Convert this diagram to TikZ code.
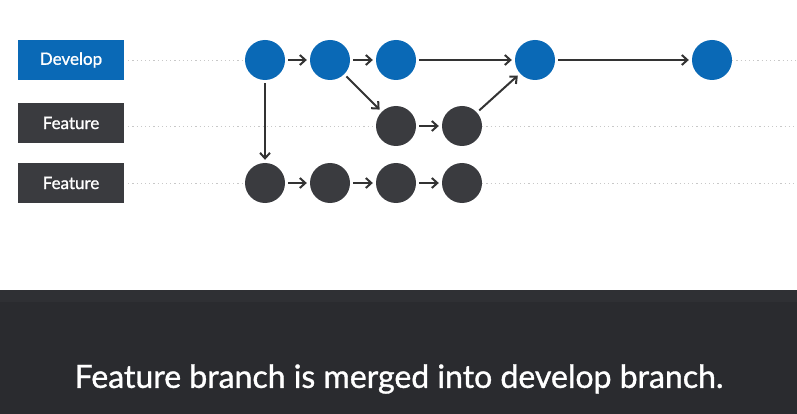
\documentclass[tikz,border=0pt]{standalone}
\usepackage{fontspec}
\setmainfont{Lato}
\newfontfamily\medfont[FakeBold=1.1]{Lato}
\usetikzlibrary{arrows.meta}
\definecolor{devblue}{HTML}{0A69B6}
\definecolor{featgray}{HTML}{3A3B3F}
\definecolor{arrowgray}{HTML}{333333}
\definecolor{bandgray}{HTML}{2A2B2F}
\definecolor{bandtop}{HTML}{2F3034}
\definecolor{dotgray}{HTML}{C8C8C8}
\tikzset{
  every picture/.style={x=1pt,y=-1pt},
  lbl/.style={minimum width=106pt,minimum height=40pt,inner sep=0pt,text=white,font=\medfont\fontsize{17}{19}\selectfont},
  devlbl/.style={lbl,fill=devblue},
  featlbl/.style={lbl,fill=featgray},
  commit/.style={circle,minimum size=40pt,inner sep=0pt},
  dc/.style={commit,fill=devblue},
  fc/.style={commit,fill=featgray},
  arr/.style={draw=arrowgray,line width=2pt,-{Straight Barb[length=5.5pt,width=10pt]},shorten <=3pt,shorten >=3pt},
  guide/.style={draw=dotgray,line width=0.9pt,dash pattern=on 1.2pt off 3pt}
}
\begin{document}
\begin{tikzpicture}
\useasboundingbox (0,0) rectangle (797,414);
\fill[white] (0,0) rectangle (797,414);
% bottom band
\fill[bandgray] (0,290) rectangle (797,414);
\fill[bandtop] (0,290) rectangle (797,302);
\node[text=white,font=\medfont\fontsize{32}{36}\selectfont] (cap) at (399,379) {Feature branch is merged into develop branch.};
% labels
\node[devlbl] (ld) at (71,60) {Develop};
\node[featlbl] (lf1) at (71,123) {Feature};
\node[featlbl] (lf2) at (71,183) {Feature};
% commits
\node[dc] (d1) at (265,60) {};
\node[dc] (d2) at (330,60) {};
\node[dc] (d3) at (396,60) {};
\node[dc] (d4) at (535,60) {};
\node[dc] (d5) at (712,60) {};
\node[fc] (f1) at (396,126) {};
\node[fc] (f2) at (462,126) {};
\node[fc] (g1) at (265,183) {};
\node[fc] (g2) at (330,183) {};
\node[fc] (g3) at (396,183) {};
\node[fc] (g4) at (462,183) {};
\coordinate (e1) at (797,60);
\coordinate (e2) at (797,126);
\coordinate (e3) at (797,183);
% guides
\draw[guide] (ld.east) ++(4,0) -- (d1.west);
\draw[guide] (d5.east) -- (e1);
\draw[guide] (lf1.east) ++(4,3) -- (f1.west);
\draw[guide] (f2.east) -- (e2);
\draw[guide] (lf2.east) ++(4,0) -- (g1.west);
\draw[guide] (g4.east) -- (e3);
% arrows
\draw[arr] (d1) -- (d2);
\draw[arr] (d2) -- (d3);
\draw[arr] (d3) -- (d4);
\draw[arr] (d4) -- (d5);
\draw[arr] (d1) -- (g1);
\draw[arr] (d2) -- (f1);
\draw[arr] (f1) -- (f2);
\draw[arr] (f2) -- (d4);
\draw[arr] (g1) -- (g2);
\draw[arr] (g2) -- (g3);
\draw[arr] (g3) -- (g4);
\end{tikzpicture}
\end{document}
